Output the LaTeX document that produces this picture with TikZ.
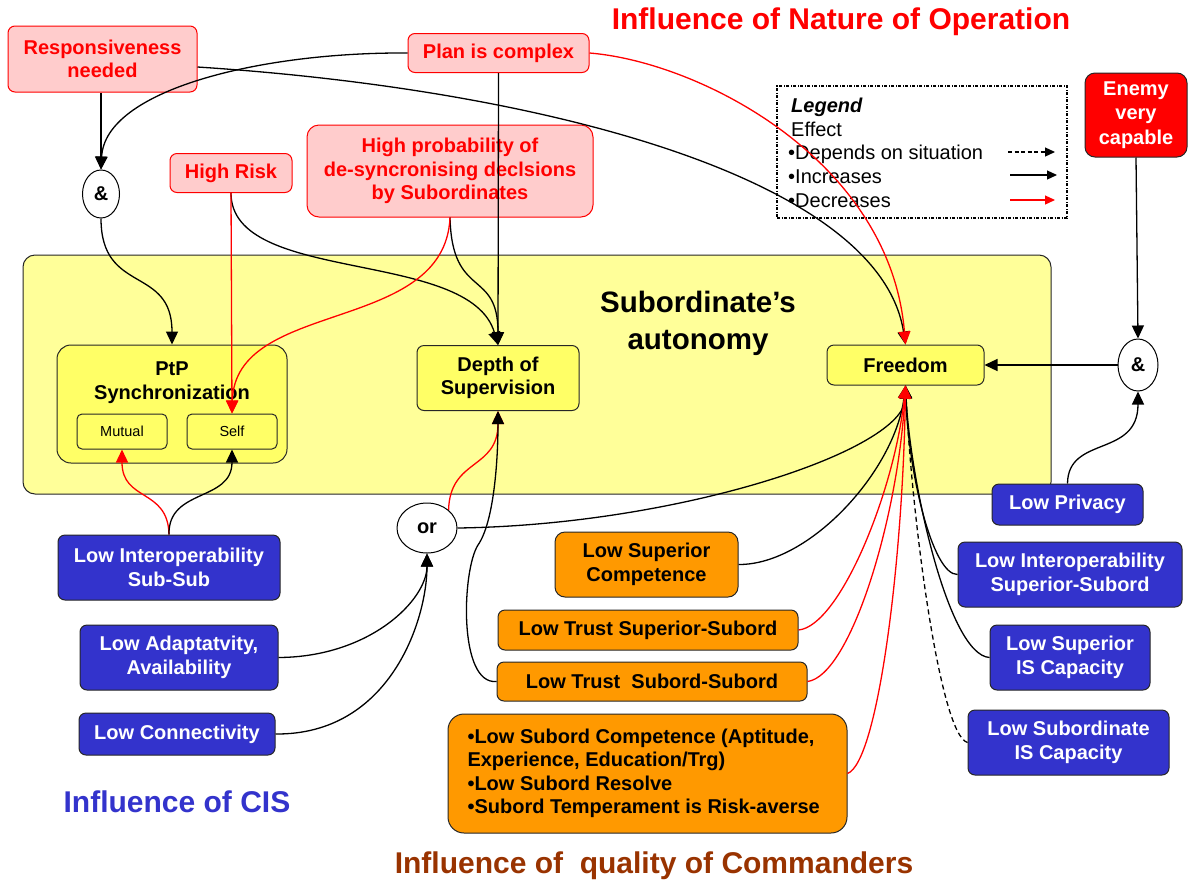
\documentclass[tikz,border=0pt]{standalone}
\usepackage{fontspec}
\setmainfont{Liberation Sans}
\usetikzlibrary{shapes.geometric,arrows.meta}
\definecolor{pinkfill}{HTML}{FFCCCC}
\definecolor{opred}{HTML}{FF0000}
\definecolor{paleyellow}{HTML}{FFFF99}
\definecolor{boxyellow}{HTML}{FFFF66}
\definecolor{cisblue}{HTML}{3333CC}
\definecolor{cmdorange}{HTML}{FF9900}
\definecolor{cmdbrown}{HTML}{993300}
\begin{document}
\begin{tikzpicture}[x=1pt,y=-1pt,
  box/.style={rectangle, rounded corners=7pt, line width=1pt, inner sep=0pt,
    align=center, font=\bfseries\fontsize{20}{23.5}\selectfont},
  opbox/.style={box, draw=opred, fill=pinkfill, text=opred},
  cisbox/.style={box, draw=black!85, fill=cisblue, text=white},
  cmdbox/.style={box, draw=black!85, fill=cmdorange, text=black},
  autobox/.style={box, draw=black!85, fill=boxyellow, text=black},
  subbox/.style={autobox, rounded corners=5pt, font=\fontsize{14.5}{16}\selectfont},
  gate/.style={ellipse, draw, line width=1pt, fill=white, inner sep=0pt,
    font=\bfseries\fontsize{20}{23.5}\selectfont},
  bigtitle/.style={font=\bfseries\fontsize{30}{33}\selectfont, inner sep=0pt},
  legtext/.style={font=\fontsize{20}{22}\selectfont, inner sep=0pt, anchor=base west},
  tip/.style={-{Triangle[length=13pt,width=12pt]}},
  inc/.style={tip, draw=black, line width=1.3pt},
  dec/.style={tip, draw=opred, line width=1.3pt},
  dep/.style={inc, dash pattern=on 5pt off 3.5pt},
  smalltip/.style={-{Triangle[length=10pt,width=9pt]}, line width=1.2pt},
]
% canvas
\fill[white] (0,0) rectangle (1188,884);
\useasboundingbox (0,0) rectangle (1188,884);

% the autonomy frame
\node[box, draw=black!85, fill=paleyellow, rounded corners=12pt,
  minimum width=1028pt, minimum height=239pt] (auto) at (537,374.5) {};
\node[font=\bfseries\fontsize{29.5}{37}\selectfont, align=center, inner sep=0pt]
  (autolbl) at (698,323) {Subordinate’s\\autonomy};

% nature of operation factors
\node[opbox, minimum width=189pt, minimum height=66pt] (resp) at (102.5,59) {Responsiveness\\needed};
\node[opbox, minimum width=181pt, minimum height=39pt] (plan) at (498.5,53) {Plan is complex};
\node[opbox, minimum width=122pt, minimum height=39pt] (risk) at (231,173) {High Risk};
\node[opbox, rounded corners=12pt, minimum width=286pt, minimum height=92pt] (hprob) at (450,171)
  {High probability of\\de-syncronising declsions\\by Subordinates};
\node[box, draw=black!85, fill=opred, text=white, rounded corners=10pt,
  font=\bfseries\fontsize{20}{24.5}\selectfont,
  minimum width=102pt, minimum height=84pt] (enemy) at (1136,115) {Enemy\\very\\capable};
\node[bigtitle, text=opred] (natlbl) at (841,22) {Influence of Nature of Operation};

% legend
\node[draw, line width=1.1pt, dash pattern=on 3pt off 1.5pt on 1pt off 1.5pt,
  minimum width=290pt, minimum height=132pt, inner sep=0pt] (legend) at (922,152) {};
\node[legtext, font=\bfseries\itshape\fontsize{20}{22}\selectfont] (legtitle) at (791,112) {Legend};
\node[legtext] (legeffect) at (791,136) {Effect};
\node[legtext] (legdep) at (788,159) {•Depends on situation};
\node[legtext] (leginc) at (788,183) {•Increases};
\node[legtext] (legdec) at (788,207) {•Decreases};
\coordinate (ldA) at (1008,152); \coordinate (ldB) at (1055,152);
\coordinate (liA) at (1010,175); \coordinate (liB) at (1057,175);
\coordinate (lrA) at (1010,200); \coordinate (lrB) at (1055,200);
\draw[smalltip, dash pattern=on 4pt off 2.5pt] (ldA) -- (ldB);
\draw[smalltip] (liA) -- (liB);
\draw[smalltip, draw=opred, fill=opred] (lrA) -- (lrB);

% autonomy components
\node[autobox, rounded corners=14pt, minimum width=230pt, minimum height=118pt] (ptp) at (172,404) {};
\node[font=\bfseries\fontsize{20}{24}\selectfont, align=center, inner sep=0pt] (ptplbl) at (172,383) {PtP\\Synchronization};
\node[subbox, minimum width=90pt, minimum height=35pt] (mutual) at (122,431.5) {Mutual};
\node[subbox, minimum width=90pt, minimum height=35pt] (self) at (232,431.5) {Self};
\node[autobox, minimum width=162pt, minimum height=65pt] (depth) at (498,378) {Depth of\\Supervision};
\node[autobox, minimum width=157pt, minimum height=40pt] (freedom) at (905.5,365) {Freedom};

% logic gates
\node[gate, minimum width=37pt, minimum height=48pt] (andL) at (101,194) {\&};
\node[gate, minimum width=40pt, minimum height=52pt] (andR) at (1138,365) {\&};
\node[gate, minimum width=60pt, minimum height=50pt] (or) at (427,528) {or};

% CIS factors
\node[cisbox, minimum width=222pt, minimum height=65pt] (iss) at (169,567.5) {Low Interoperability\\Sub-Sub};
\node[cisbox, minimum width=198pt, minimum height=65pt] (adapt) at (179,657.5) {Low Adaptatvity,\\Availability};
\node[cisbox, minimum width=196pt, minimum height=42pt] (conn) at (177,734) {Low Connectivity};
\node[cisbox, minimum width=151pt, minimum height=41pt] (privacy) at (1067.5,504.5) {Low Privacy};
\node[cisbox, minimum width=224pt, minimum height=65pt] (isup) at (1070,574.5) {Low Interoperability\\Superior-Subord};
\node[cisbox, minimum width=160pt, minimum height=65pt] (supis) at (1070,657.5) {Low Superior\\IS Capacity};
\node[cisbox, minimum width=201pt, minimum height=65pt] (subis) at (1068.5,742.5) {Low Subordinate\\IS Capacity};
\node[bigtitle, text=cisblue] (cislbl) at (177,802) {Influence of CIS};

% commander factors
\node[cmdbox, rounded corners=10pt, minimum width=183pt, minimum height=65pt] (supcomp) at (646.5,564.5) {Low Superior\\Competence};
\node[cmdbox, minimum width=300pt, minimum height=40pt] (trustsup) at (648,630) {Low Trust Superior-Subord};
\node[cmdbox, minimum width=310pt, minimum height=39pt] (trustsub) at (652,681.5) {Low Trust \ Subord-Subord};
\node[cmdbox, rounded corners=16pt, align=left, minimum width=399pt, minimum height=119pt] (subcomp) at (647.5,773.5)
  {\makebox[360pt][l]{•Low Subord Competence (Aptitude,}\\Experience, Education/Trg)\\•Low Subord Resolve\\•Subord Temperament is Risk-averse};
\node[bigtitle, text=cmdbrown] (cmdlbl) at (654,866) {Influence of \ quality of Commanders};

% effects from the nature of operation
\draw[inc] (andL.north |- resp.south) -- (andL.north);
\draw[inc] (plan.west) .. controls (260,52) and (105,90) .. (andL.north);
\draw[inc] ([yshift=-8pt]resp.east) .. controls (550,90) and (880,180) .. (freedom.north);
\draw[dec] (plan.east) .. controls (700,62) and (890,160) .. (freedom.north);
\draw[inc] (andL.south) .. controls (101,295) and (172,265) .. (ptp.north);
\draw[inc] (risk.south) .. controls (231,285) and (470,248) .. (depth.north);
\draw[inc] (hprob.south) .. controls (452,300) and (498,268) .. (depth.north);
\draw[inc] (plan.south) -- (depth.north);
\draw[dec] (risk.south) -- (self.north);
\draw[dec] (hprob.south) .. controls (445,335) and (235,298) .. (self.north);
\draw[inc] (enemy.south) -- (andR.north);
\draw[inc] (andR.west) -- (freedom.east);

% effects from the CIS
\draw[inc] (privacy.north) .. controls (1068,435) and (1138,458) .. (andR.south);
\draw[dec] (iss.north) .. controls (168,488) and (122,502) .. (mutual.south);
\draw[inc] (iss.north) .. controls (168,488) and (232,502) .. (self.south);
\draw[inc] (adapt.east) .. controls (370,657) and (427,600) .. (or.south);
\draw[inc] (conn.east) .. controls (390,735) and (427,620) .. (or.south);
\draw[dec] (or.north east) .. controls (450,458) and (498,470) .. (depth.south);
\draw[inc] (or.east) .. controls (680,525) and (905,450) .. (freedom.south);
\draw[inc] (isup.west) .. controls (932,575) and (908,470) .. (freedom.south);
\draw[inc] (supis.west) .. controls (948,655) and (910,480) .. (freedom.south);
\draw[dep] (subis.west) .. controls (940,735) and (912,520) .. (freedom.south);

% effects from the commanders
\draw[inc] (trustsub.west) .. controls (458,685) and (462,570) .. (478,545)
  .. controls (494,522) and (498,460) .. (depth.south);
\draw[inc] (supcomp.east) .. controls (810,565) and (895,470) .. (freedom.south);
\draw[dec] (trustsup.east) .. controls (840,626) and (895,490) .. (freedom.south);
\draw[dec] (trustsub.east) .. controls (850,676) and (898,520) .. (freedom.south);
\draw[dec] (subcomp.east) .. controls (878,762) and (903,560) .. (freedom.south);
\end{tikzpicture}
\end{document}
